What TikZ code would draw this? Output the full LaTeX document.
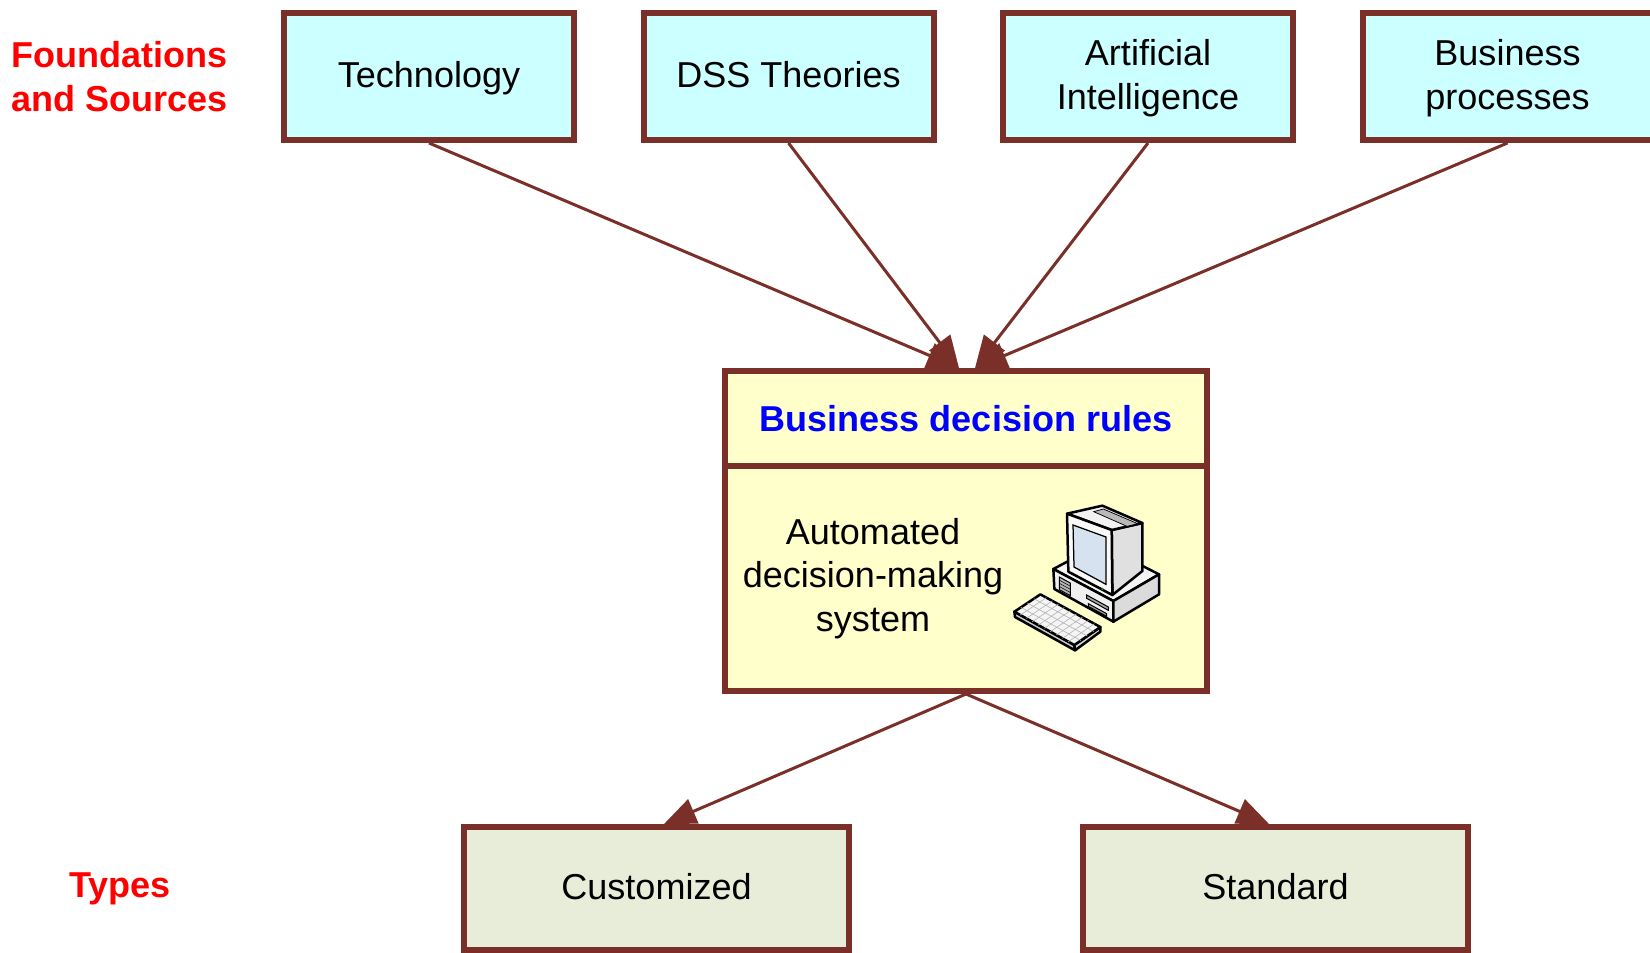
\documentclass[tikz,border=0pt]{standalone}
\usepackage{fontspec}
\setmainfont{Liberation Sans}
\usetikzlibrary{positioning, arrows.meta, calc}

\definecolor{edgered}{RGB}{122,48,40}
\definecolor{srcfill}{RGB}{204,255,255}
\definecolor{rulefill}{RGB}{255,255,204}
\definecolor{typefill}{RGB}{232,237,218}
\definecolor{screenblue}{RGB}{214,226,240}
\newcommand{\diagfont}{\fontsize{20.5}{24.8}\selectfont}

\begin{document}
\begin{tikzpicture}[
    node distance=1.27cm,
    source/.style={draw=edgered, line width=0.12cm, rectangle, minimum width=5.8cm, minimum height=2.54cm, align=center, fill=srcfill, font=\diagfont, text depth=0.22em},
    rulebox/.style={draw=edgered, line width=0.12cm, rectangle, minimum width=9.64cm, fill=rulefill, align=center},
    typebox/.style={draw=edgered, line width=0.12cm, rectangle, minimum width=7.7cm, minimum height=2.46cm, align=center, fill=typefill, font=\diagfont, text depth=0.22em},
    group/.style={font=\diagfont\bfseries, text=red, align=left, inner sep=0pt},
    arrow/.style={-{Triangle[length=0.64cm, width=0.52cm]}, line width=0.06cm, draw=edgered, fill=edgered},
    part/.style={draw=black, line width=0.05cm, line join=round}
]
\useasboundingbox (0,0) rectangle (33,-19.06);

% foundations and sources
\node[source] at (8.58,-1.53) (tech) {Technology};
\node[source, right=of tech] (dss) {DSS Theories};
\node[source, right=of dss] (ai) {Artificial\\Intelligence};
\node[source, right=of ai] (bp) {Business\\processes};
\node[group, left=1.06cm of tech] (found) {Foundations\\and Sources};

% business decision rules
\node[rulebox, minimum height=1.9cm, font=\diagfont\bfseries, text=blue] at (19.32,-8.37) (rules) {Business decision rules};
\node[rulebox, minimum height=4.5cm, below=-0.12cm of rules] (adms) {};
\node[font=\diagfont, align=center] at ([xshift=-1.86cm]adms.center) (admtext) {Automated\\decision-making\\system};

% types
\node[typebox] at (13.13,-17.77) (cust) {Customized};
\node[typebox, right=4.56cm of cust] (stand) {Standard};
\node[group, left=5.8cm of cust] (types) {Types};

\foreach \src/\dx in {tech/-0.14, dss/-0.14, ai/0.18, bp/0.18}
    \draw[arrow] (\src.south) -- ([xshift=\dx cm]rules.north);
\draw[arrow] (adms.south) -- ([xshift=0.15cm]cust.north);
\draw[arrow] (adms.south) -- ([xshift=-0.13cm]stand.north);

% computer
\begin{scope}[shift={(20.1,-9.9)}, x=0.00667cm, y=-0.00667cm]
    \draw[part, fill=gray!8] (145,222) -- (325,318) -- (462,238) -- (285,148) -- cycle;
    \draw[part, fill=gray!12] (145,222) -- (325,318) -- (325,380) -- (148,282) -- cycle;
    \draw[part, fill=gray!28] (325,318) -- (462,238) -- (462,298) -- (325,380) -- cycle;
    \draw[black, line width=0.02cm, fill=gray!60] (163,246) -- (196,264) -- (196,302) -- (163,284) -- cycle;
    \foreach \t in {0.25,0.5,0.75}
        \draw[black, line width=0.01cm] ($(163,246)!\t!(163,284)$) -- ($(196,264)!\t!(196,302)$);
    \draw[black, line width=0.02cm, fill=gray!70] (245,300) -- (310,336) -- (310,346) -- (245,310) -- cycle;
    \draw[black, line width=0.02cm, fill=gray!70] (250,326) -- (305,356) -- (305,364) -- (250,334) -- cycle;
    % monitor
    \draw[part, fill=gray!24] (320,105) -- (412,84) -- (412,228) -- (322,300) -- cycle;
    \draw[part, fill=gray!10] (186,56) -- (292,32) -- (412,84) -- (320,105) -- cycle;
    \draw[black, line width=0.015cm, fill=gray!55] (295,42) -- (398,86) -- (366,94) -- (266,50) -- cycle;
    \draw[part, fill=gray!5] (186,56) -- (320,105) -- (322,300) -- (190,230) -- cycle;
    \draw[black, line width=0.025cm, fill=screenblue] (204,90) -- (303,126) -- (303,268) -- (207,216) -- cycle;
    \fill[green!55!black] (292,282) circle (4);
    % keyboard
    \draw[part, fill=gray!40] (28,350) -- (208,450) -- (210,466) -- (30,366) -- cycle;
    \draw[part, fill=gray!30] (208,450) -- (286,396) -- (286,410) -- (210,466) -- cycle;
    \draw[part, fill=gray!8] (28,350) -- (106,298) -- (286,396) -- (208,450) -- cycle;
    \foreach \t in {0.25,0.5,0.75}
        \draw[gray!60, line width=0.012cm] ($(28,350)!\t!(106,298)$) -- ($(208,450)!\t!(286,396)$);
    \foreach \t in {0.1,0.2,...,0.9}
        \draw[gray!60, line width=0.012cm] ($(28,350)!\t!(208,450)$) -- ($(106,298)!\t!(286,396)$);
\end{scope}

\end{tikzpicture}
\end{document}
